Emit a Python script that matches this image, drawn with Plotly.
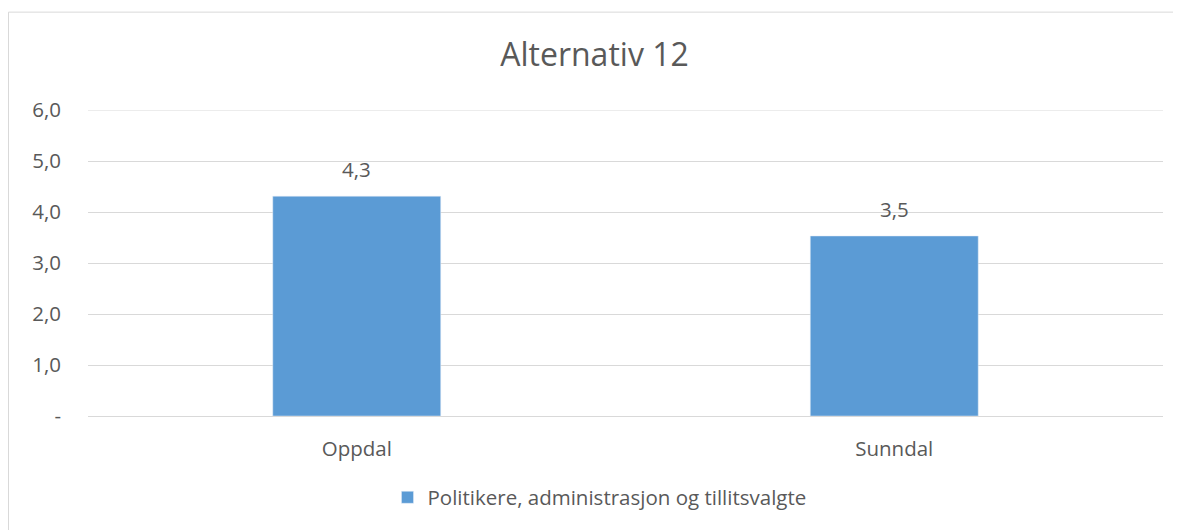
import plotly.graph_objects as go

categories = ["Oppdal", "Sunndal"]
values = [4.31, 3.53]
series_name = "Politikere, administrasjon og tillitsvalgte"
tick_vals = [0, 1, 2, 3, 4, 5, 6]
tick_text = ["-", "1,0", "2,0", "3,0", "4,0", "5,0", "6,0"]

FONT = "Open Sans, Liberation Sans, sans-serif"
TXT = "#595959"
FS = 20.5
GRID = "#D9D9D9"

# page has an 8px body offset; figure coords = page coords - 8
W, H = 1173, 522
L, R, T, B = 80, 18, 102, 112
PH = H - T - B
PW = W - L - R

fig = go.Figure()
fig.add_trace(go.Bar(
    x=categories, y=values, name=series_name,
    marker=dict(color="#5B9BD5"),
    width=0.3125,
    showlegend=True,
))

annotations = [
    dict(x=c, y=v, xref="x", yref="y", text=f"{v:.1f}".replace(".", ","),
         showarrow=False, yshift=27, yanchor="middle",
         font=dict(size=FS, color=TXT, family=FONT))
    for c, v in zip(categories, values)
]

fig.update_layout(
    width=W, height=H,
    margin=dict(l=L, r=R, t=T, b=B),
    paper_bgcolor="white", plot_bgcolor="white",
    separators=", ",
    title=dict(text="Alternativ 12", x=0.5, xanchor="center", y=1 - 47 / H, yanchor="middle",
               font=dict(size=32, color=TXT, family=FONT)),
    font=dict(family=FONT, color=TXT, size=FS),
    xaxis=dict(showgrid=False, showline=False, ticks="", ticklabelstandoff=18,
               tickfont=dict(size=FS, color=TXT)),
    yaxis=dict(range=[0, 6], tickvals=tick_vals, ticktext=tick_text,
               showgrid=True, gridcolor=GRID, gridwidth=1, zeroline=True,
               zerolinecolor=GRID, zerolinewidth=1, showline=False, ticks="",
               ticklabelstandoff=26, tickfont=dict(size=FS, color=TXT)),
    legend=dict(orientation="h", x=0.4758, xanchor="center", y=(410 - 492) / PH, yanchor="middle",
                font=dict(size=FS, color=TXT), itemwidth=30),
    annotations=annotations,
    shapes=[
        dict(type="rect", xref="paper", yref="paper",
             x0=(0.5 - L) / PW, x1=1.3, y0=-1.0, y1=(410 - 3.5) / PH,
             line=dict(color=GRID, width=1), layer="below"),
        dict(type="line", xref="paper", yref="y", x0=0, x1=1, y0=max(tick_vals), y1=max(tick_vals),
             line=dict(color=GRID, width=1), layer="below"),
    ],
)

fig.write_html("out.html")
